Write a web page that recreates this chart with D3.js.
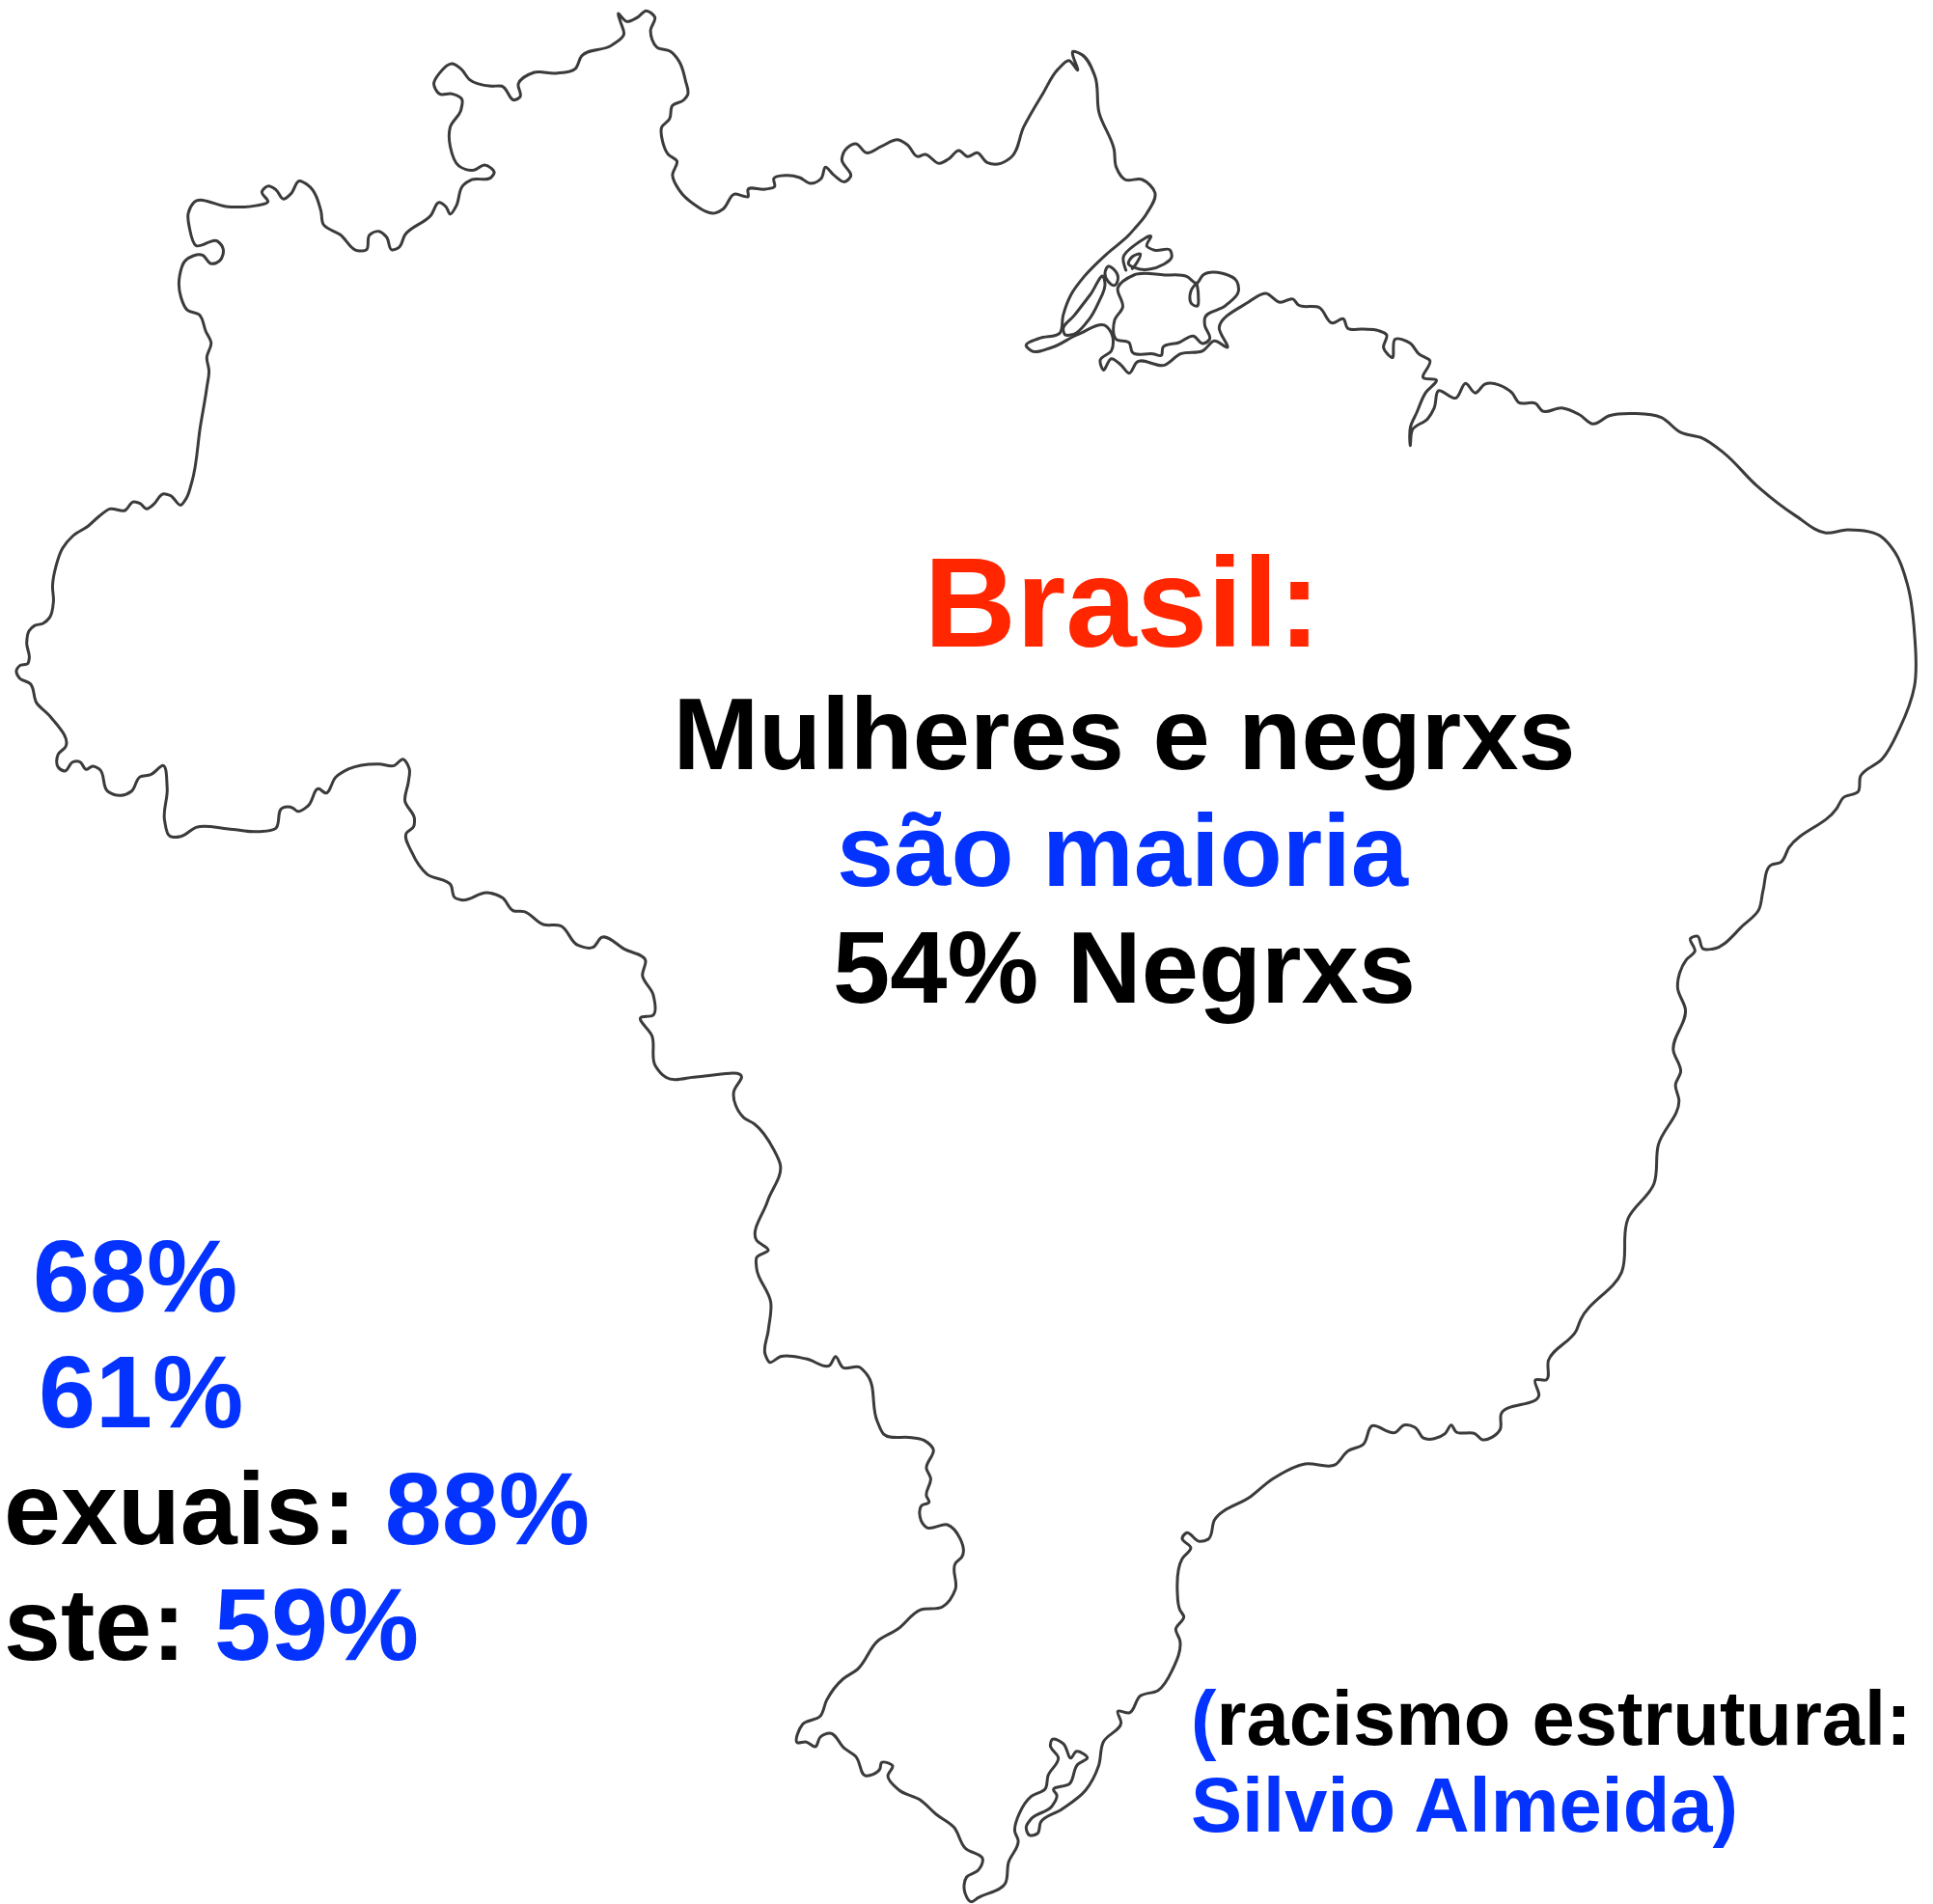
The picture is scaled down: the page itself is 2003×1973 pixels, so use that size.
<!DOCTYPE html>
<html>
<head>
<meta charset="utf-8">
<script src="https://cdn.jsdelivr.net/npm/d3@7"></script>
<style>
  html, body { margin: 0; padding: 0; background: #fff; }
  svg { display: block; }
  text { font-family: "Liberation Sans", Arial, sans-serif; font-weight: bold; }
</style>
</head>
<body>
<svg id="drawing_region"></svg>
<script>
// border traced in pieces, each piece read in its own tracing frame
const westCoast = [[38,585],[45,570],[65,562],[68,545],[62,500],[68,460],[80,445],[100,438],[115,420],[124,370],[122,320],[130,260],[145,205],[170,165],[205,135],[230,105],[255,82],[290,87],[310,60],[325,65],[340,82],[355,70],[380,35],[395,40],[420,70],[432,50],[445,0]];
const northWest = [[465,990],[480,900],[485,860],[480,830],[490,795],[478,770],[462,730],[435,720],[420,690],[417,640],[430,605],[470,592],[490,612],[510,605],[518,578],[505,560],[455,570],[440,530],[437,495],[450,470],[530,480],[590,478],[622,468],[608,445],[622,432],[640,440],[658,462],[675,450],[695,420],[715,430],[745,490],[750,520],[790,545],[830,582],[850,580],[858,545],[880,537],[897,550],[910,580],[925,575],[940,545],[1000,500],[1020,470],[1035,480],[1045,497],[1058,480],[1075,430],[1095,417],[1140,412],[1147,402],[1125,383],[1100,395],[1065,385],[1045,340],[1045,295],[1070,255],[1072,230],[1050,218],[1020,218],[1007,195],[1020,170],[1050,148],[1070,160],[1090,185],[1140,200],[1165,200],[1195,232],[1207,225],[1203,195],[1240,168],[1290,170],[1335,160],[1350,130],[1420,105],[1448,80],[1440,50],[1435,32],[1455,50],[1480,40],[1500,25],[1520,40],[1510,70],[1525,110]];
const northGuianas = [[100,160],[120,190],[135,250],[140,295],[130,312],[105,328],[98,370],[80,395],[82,440],[95,480],[115,500],[105,545],[120,590],[155,635],[205,662],[222,650],[250,603],[270,610],[280,612],[280,590],[320,588],[342,580],[340,555],[370,545],[400,552],[425,570],[450,555],[460,520],[480,545],[505,565],[518,550],[498,495],[510,460],[530,447],[555,475],[590,455],[630,435],[650,450],[675,487],[690,480],[725,508],[745,495],[770,468],[790,487],[812,475],[835,505],[860,510],[890,490],[920,395],[965,290],[1000,215],[1025,188],[1045,218],[1035,160],[1055,170],[1085,235],[1095,350],[1130,465],[1135,520],[1155,558],[1195,558],[1225,600],[1205,665],[1178,710]];
const amazonMouth = [[390,40],[320,100],[250,170],[210,225],[185,290],[175,345],[110,362],[70,385],[85,400],[150,390],[230,350],[320,325],[335,345],[335,400],[300,430],[310,460],[335,425],[365,445],[390,470],[415,435],[500,445],[550,410],[620,400],[655,370],[695,390],[670,330],[760,250],[815,222],[860,250],[900,240]];
const northEast = [[100,35],[150,42],[180,78],[205,68],[215,90],[250,92],[285,95],[305,105],[298,135],[318,158],[325,115],[360,125],[380,150],[405,165],[390,205],[420,210],[395,240],[375,285],[360,320],[360,362],[365,325],[400,300],[415,275],[425,235],[465,252],[488,218],[510,240],[532,220],[595,240],[610,262],[650,265],[665,282],[710,275],[750,290],[782,312],[820,293],[880,288],[940,297],[985,332],[1035,345],[1085,380],[1160,455],[1250,525],[1320,565],[1370,558],[1450,575],[1480,610],[1510,690],[1525,800],[1525,920],[1490,1020],[1450,1090],[1400,1130],[1395,1165],[1360,1180],[1345,1205],[1235,1295],[1215,1330],[1195,1335],[1175,1395],[1165,1440],[1130,1475]];
const eastCoast = [[1510,75],[1490,75],[1475,45],[1460,50],[1470,80],[1450,100],[1430,165],[1448,215],[1420,310],[1437,360],[1425,390],[1433,425],[1385,530],[1375,620],[1315,700],[1300,825],[1205,935],[1195,960],[1130,1030],[1125,1075],[1100,1075],[1108,1110],[1020,1155],[1018,1190],[975,1213],[960,1200],[915,1195],[905,1180],[890,1200],[840,1210],[820,1185],[795,1180],[775,1197],[720,1182],[700,1225],[665,1240],[635,1272],[565,1270],[490,1305],[440,1345],[355,1400],[340,1445],[320,1450],[290,1430],[280,1442],[300,1465],[280,1490]];
const southTip = [[1320,450],[1328,505],[1340,525],[1315,565],[1328,600],[1305,690],[1260,755],[1205,772],[1170,825],[1135,820],[1145,855],[1090,915],[1075,990],[1035,1065],[960,1125],[895,1165],[885,1200],[860,1205],[850,1180],[865,1155],[930,1115],[945,1080],[935,1065],[985,1045],[1010,985],[1040,965],[1005,945],[990,965],[965,920],[930,908],[925,925],[950,965],[918,1020],[910,1060],[865,1085],[830,1135],[815,1195],[825,1220],[795,1290],[785,1355],[700,1400],[680,1412],[660,1385],[665,1335],[700,1315],[715,1280],[660,1245],[625,1180],[570,1140],[520,1095],[455,1065],[420,1020],[435,990],[400,980],[395,1000],[350,1020],[320,960],[285,935],[240,888],[210,900],[195,930],[165,915],[140,918],[155,860],[210,835],[230,785],[280,720],[325,690],[390,600],[450,565],[520,505],[590,495],[630,440],[630,360],[650,340],[605,240],[540,248],[520,215],[525,180],[548,170],[540,150],[553,95],[540,65]];
const westBorder = [[1315,1460],[1295,1440],[1265,1433],[1200,1425],[1185,1395],[1160,1285],[1145,1270],[1105,1270],[1088,1245],[1075,1265],[1020,1250],[960,1245],[935,1258],[925,1240],[932,1185],[938,1120],[905,1040],[905,1015],[932,998],[905,975],[930,885],[960,800],[945,765],[900,705],[875,690],[852,630],[870,597],[770,595],[695,597],[670,570],[662,500],[636,458],[665,452],[665,405],[640,360],[647,325],[600,300],[545,272],[525,295],[490,290],[450,245],[410,242],[365,212],[340,210],[315,180],[280,168],[220,185],[205,180],[195,150],[140,125],[105,75],[92,30]];
const southWest = [[960,1070],[962,1045],[940,990],[948,930],[950,890],[935,860],[915,880],[880,875],[810,890],[780,915],[755,965],[740,952],[715,1005],[690,1022],[680,1012],[655,1012],[640,1075],[600,1085],[530,1077],[455,1072],[420,1100],[395,1100],[382,1050],[388,950],[378,880],[350,908],[325,915],[305,960],[280,973],[250,960],[230,890],[215,882],[200,892],[185,868],[170,868],[150,897],[135,885],[135,845],[152,822],[115,725],[85,685],[70,625],[45,608]];

// islands in the mouth of the Amazon
const longIsland = [[310,170],[270,225],[220,290],[185,335],[190,350],[215,350],[260,310],[295,250],[315,190]];
const ovalIsland = [[325,138],[345,150],[355,180],[345,197],[325,185],[315,160]];
const upperIsland = [[380,150],[372,110],[410,70],[458,45],[445,75],[470,88],[518,88],[522,110],[495,133],[410,143],[388,130],[400,108],[425,100],[415,125],[400,145]];
const marajo = [[355,205],[405,165],[500,165],[570,170],[600,190],[620,165],[680,160],[725,185],[730,215],[690,260],[625,300],[625,320],[640,365],[620,378],[590,355],[545,375],[495,390],[490,415],[465,410],[400,405],[390,375],[350,365],[345,305],[370,265]];
const marajoNotch = [[600,190],[582,215],[585,255],[600,262],[605,225],[600,190]];

// text rows, each one a list of [text, colour key]
const titleRow = [["Brasil:", "red"]];
const centerRows = [
  [["Mulheres e negrxs", "black"]],
  [["são maioria", "blue"]],
  [["54% Negrxs", "black"]]
];
const leftRows = [
  [["68%", "blue"]],
  [["61%", "blue"]],
  [["exuais: ", "black"], ["88%", "blue"]],
  [["ste: ", "black"], ["59%", "blue"]]
];
const noteRows = [
  [["(", "blue"], ["racismo estrutural:", "black"]],
  [["Silvio Almeida)", "blue"]]
];

const config = {
  parent: '#drawing_region',
  width: 2003,
  height: 1973
};
const ink = { red: "#ff2600", blue: "#0433ff", black: "#000000" };

const svg = d3.select(config.parent)
  .attr('width', config.width)
  .attr('height', config.height);

// the reference outline is a soft, enlarged image
svg.append('defs').append('filter')
  .attr('id', 'soft')
  .append('feGaussianBlur')
  .attr('stdDeviation', 0.6);

// a tracing frame: crop origin plus the zoom factor of each axis
function frame(x0, y0, kx, ky) {
  const sx = d3.scaleLinear().domain([0, 1000]).range([x0, x0 + 1000 / kx]);
  const sy = d3.scaleLinear().domain([0, 1000]).range([y0, y0 + 1000 / ky]);
  return pts => pts.map(d => [sx(d[0]), sy(d[1])]);
}
const nwFrame = frame(0, 0, 2.24, 2.24);
const wideNorth = frame(650, 0, 2.24, 3);
const wideWest = frame(0, 500, 2.24, 3);
const mouthFrame = frame(1040, 230, 3, 3);
const neFrame = frame(1300, 300, 2.23, 2.24);
const eastFrame = frame(1100, 950, 2.24, 2.24);
const southFrame = frame(780, 1500, 3, 3);
const borderFrame = frame(380, 850, 2.24, 2.24);

const border = [].concat(
  wideWest(westCoast),
  nwFrame(northWest),
  wideNorth(northGuianas),
  mouthFrame(amazonMouth),
  neFrame(northEast),
  eastFrame(eastCoast),
  southFrame(southTip),
  borderFrame(westBorder),
  wideWest(southWest)
);

const closedLine = d3.line().curve(d3.curveCatmullRomClosed.alpha(1));
const openLine = d3.line().curve(d3.curveCatmullRom.alpha(1));

const map = svg.append('g')
  .attr('fill', 'none')
  .attr('stroke', '#3a3a3a')
  .attr('stroke-width', 3)
  .attr('stroke-linejoin', 'round')
  .attr('stroke-linecap', 'round')
  .attr('filter', 'url(#soft)');

map.append('path').attr('d', closedLine(border));
[longIsland, ovalIsland, marajo].forEach(d => {
  map.append('path').attr('d', closedLine(mouthFrame(d)));
});
[upperIsland, marajoNotch].forEach(d => {
  map.append('path').attr('d', openLine(mouthFrame(d)));
});

function drawRow(row, x, y, size, anchor) {
  const t = svg.append('text')
    .attr('x', x)
    .attr('y', y)
    .attr('font-size', size)
    .attr('text-anchor', anchor)
    .attr('xml:space', 'preserve');
  t.selectAll('tspan').data(row).join('tspan')
    .attr('fill', d => ink[d[1]])
    .text(d => d[0]);
}

drawRow(titleRow, 1163, 670, 132, 'middle');
const centerX = [1165, 1163, 1165];
centerRows.forEach((row, i) => drawRow(row, centerX[i], [797, 918, 1039][i], 106.5, 'middle'));
const leftX = [34, 40, 4, 4];
leftRows.forEach((row, i) => drawRow(row, leftX[i], [1359, 1479, 1600, 1720][i], 106, 'start'));
noteRows.forEach((row, i) => drawRow(row, 1234, [1808, 1898][i], 79.5, 'start'));
</script>
</body>
</html>
